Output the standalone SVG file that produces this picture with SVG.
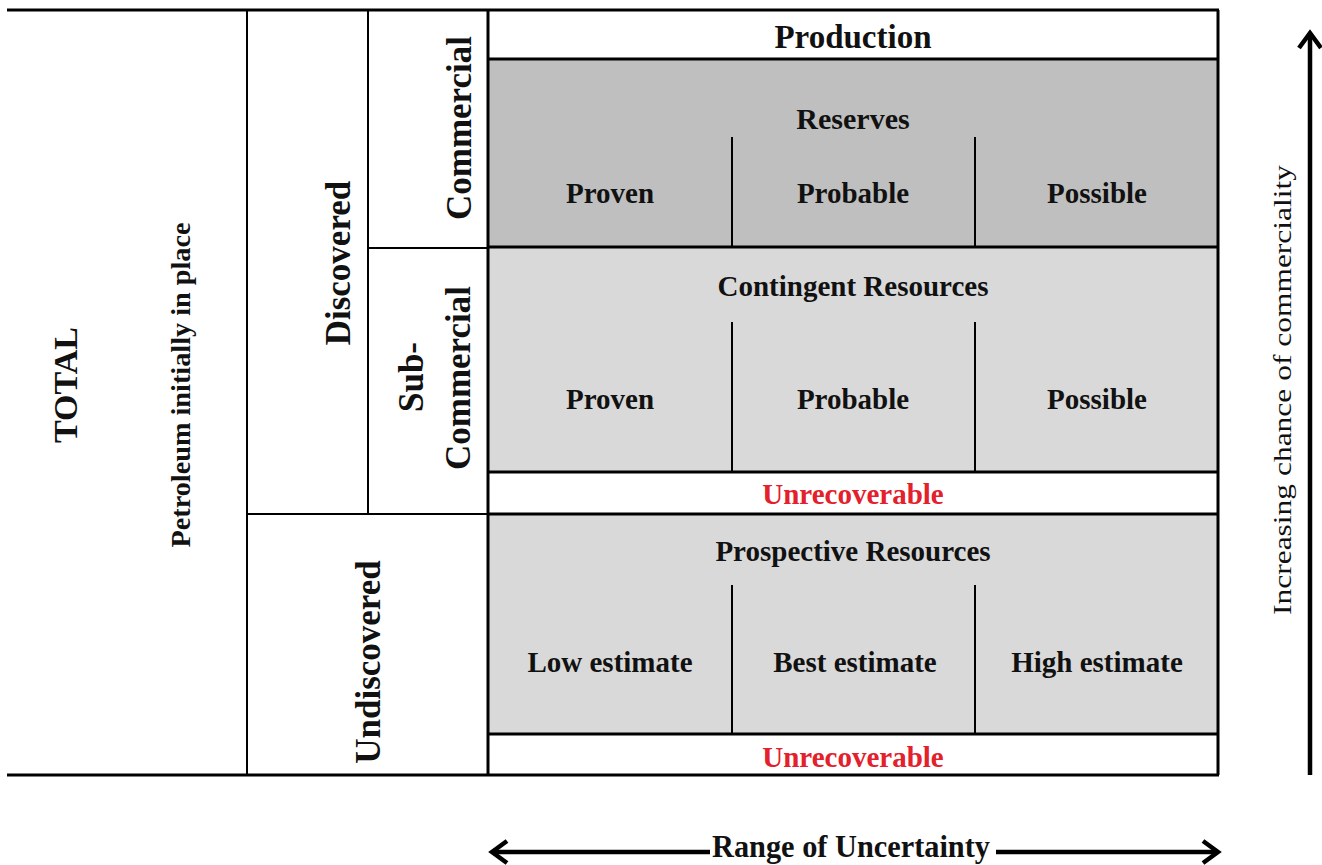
<svg xmlns="http://www.w3.org/2000/svg" width="1322" height="865" viewBox="0 0 1322 865">
<style>
text{font-family:"Liberation Serif","Times New Roman",serif;fill:#111;}
.b{font-weight:bold;}
.cell{font-size:29px;font-weight:bold;text-anchor:middle;}
.side{font-size:35px;font-weight:bold;text-anchor:middle;}
.red{fill:#e3202b;}
.thick{stroke:#000;stroke-width:3;fill:none;}
.thin{stroke:#000;stroke-width:2;fill:none;}
.div{stroke:#000;stroke-width:2;}
.arrow{stroke:#000;stroke-width:4.5;fill:none;}
</style>
<defs>
<marker id="chev" viewBox="-20 -20 40 40" markerUnits="userSpaceOnUse" markerWidth="40" markerHeight="40" refX="0" refY="0" orient="auto-start-reverse" overflow="visible">
<path d="M -15 -11 L 0 0 L -15 11" fill="none" stroke="#000" stroke-width="4.5" stroke-linejoin="miter"/>
</marker>
</defs>
<rect width="1322" height="865" fill="#fff"/>

<g id="production">
<rect x="488" y="10" width="730" height="49" fill="#fff"/>
<text class="cell" x="853" y="48" style="font-size:33px">Production</text>
</g>

<g id="reserves">
<rect x="488" y="59" width="730" height="188" fill="#bfbfbf"/>
<text class="cell" x="853" y="129" style="font-size:30px">Reserves</text>
<line class="div" x1="732" y1="137" x2="732" y2="247"/>
<line class="div" x1="975" y1="137" x2="975" y2="247"/>
<text class="cell" x="610" y="203">Proven</text>
<text class="cell" x="853" y="203">Probable</text>
<text class="cell" x="1097" y="203">Possible</text>
</g>

<g id="contingent">
<rect x="488" y="247" width="730" height="225" fill="#d9d9d9"/>
<text class="cell" x="853" y="296">Contingent Resources</text>
<line class="div" x1="732" y1="322" x2="732" y2="472"/>
<line class="div" x1="975" y1="322" x2="975" y2="472"/>
<text class="cell" x="610" y="409">Proven</text>
<text class="cell" x="853" y="409">Probable</text>
<text class="cell" x="1097" y="409">Possible</text>
</g>

<g id="unrecoverable-1">
<rect x="488" y="472" width="730" height="42" fill="#fff"/>
<text class="cell red" x="853" y="504">Unrecoverable</text>
</g>

<g id="prospective">
<rect x="488" y="514" width="730" height="220" fill="#d9d9d9"/>
<text class="cell" x="853" y="561">Prospective Resources</text>
<line class="div" x1="732" y1="585" x2="732" y2="734"/>
<line class="div" x1="975" y1="585" x2="975" y2="734"/>
<text class="cell" x="610" y="672">Low estimate</text>
<text class="cell" x="855" y="672">Best estimate</text>
<text class="cell" x="1097" y="672">High estimate</text>
</g>

<g id="unrecoverable-2">
<rect x="488" y="734" width="730" height="41" fill="#fff"/>
<text class="cell red" x="853" y="767">Unrecoverable</text>
</g>

<g id="grid">
<line class="thick" x1="7" y1="10" x2="1219" y2="10"/>
<line class="thick" x1="7" y1="775" x2="1219" y2="775"/>
<line class="thin" x1="247" y1="10" x2="247" y2="775"/>
<line class="thin" x1="368" y1="10" x2="368" y2="514"/>
<line class="thin" x1="368" y1="248" x2="488" y2="248"/>
<line class="thin" x1="247" y1="514" x2="488" y2="514"/>
<line class="thick" x1="488" y1="10" x2="488" y2="775"/>
<line class="thick" x1="1218" y1="10" x2="1218" y2="775"/>
<line class="thick" x1="488" y1="59" x2="1218" y2="59"/>
<line class="thick" x1="488" y1="247" x2="1218" y2="247"/>
<line class="thick" x1="488" y1="472" x2="1218" y2="472"/>
<line class="thick" x1="488" y1="514" x2="1218" y2="514"/>
<line class="thick" x1="488" y1="734" x2="1218" y2="734"/>
</g>

<g id="total">
<text class="side" transform="translate(77,385) rotate(-90)" style="font-size:34px">TOTAL</text>
</g>
<g id="petroleum">
<text class="side" transform="translate(190,385) rotate(-90)" style="font-size:28px" textLength="325" lengthAdjust="spacingAndGlyphs">Petroleum initially in place</text>
</g>
<g id="discovered">
<text class="side" transform="translate(350,263) rotate(-90)">Discovered</text>
</g>
<g id="undiscovered">
<text class="side" transform="translate(380,662) rotate(-90)">Undiscovered</text>
</g>
<g id="commercial">
<text class="side" transform="translate(471,128) rotate(-90)">Commercial</text>
</g>
<g id="sub-commercial">
<text class="side" transform="translate(423,377) rotate(-90)">Sub-</text>
<text class="side" transform="translate(470,378) rotate(-90)">Commercial</text>
</g>

<g id="connectors">
<line class="arrow" x1="492" y1="852" x2="710" y2="852" marker-start="url(#chev)"/>
<line class="arrow" x1="996" y1="852" x2="1218" y2="852" marker-end="url(#chev)"/>
<line class="arrow" x1="1310" y1="775" x2="1310" y2="33" marker-end="url(#chev)"/>
</g>

<g id="range-label">
<text class="b" x="712" y="857" style="font-size:31px" textLength="278" lengthAdjust="spacingAndGlyphs">Range of Uncertainty</text>
</g>
<g id="commerciality-label">
<text transform="translate(1291,390) rotate(-90)" text-anchor="middle" style="font-size:26px" textLength="450" lengthAdjust="spacingAndGlyphs">Increasing chance of commerciality</text>
</g>
</svg>
